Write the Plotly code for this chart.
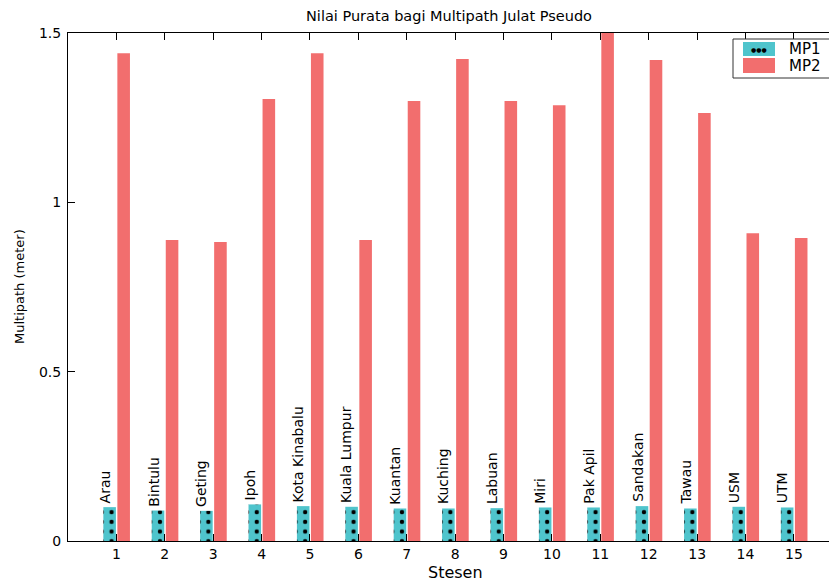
import plotly.graph_objects as go

stations = ["Arau", "Bintulu", "Geting", "Ipoh", "Kota Kinabalu", "Kuala Lumpur",
            "Kuantan", "Kuching", "Labuan", "Miri", "Pak Apil", "Sandakan",
            "Tawau", "USM", "UTM"]
station_no = list(range(1, 16))
mp1 = [0.100, 0.090, 0.089, 0.108, 0.103, 0.101, 0.096, 0.096, 0.097, 0.099,
       0.099, 0.103, 0.096, 0.101, 0.099]
mp2 = [1.440, 0.889, 0.883, 1.305, 1.440, 0.889, 1.299, 1.423, 1.299, 1.287,
       1.500, 1.420, 1.264, 0.909, 0.895]
y_ticks = [0, 0.5, 1, 1.5]
y_ticklabels = ["0", "0.5", "1", "1.5"]

CYAN = "#4FC4CC"
RED = "#F26E6E"
FONT = "DejaVu Sans, Verdana, sans-serif"

# page body has an 8px margin; figure sized so that it ends at the window edge
OFF = 8
W, H = 837 - OFF, 583 - OFF
L, R, T, B = 68 - OFF, 0, 33 - OFF, 583 - 541
pw, ph = W - L - R, H - T - B

def px(xs):  # screen x -> paper
    return (xs - 68) / pw

def py(ys):  # screen y -> paper
    return (541 - ys) / ph

fig = go.Figure()
fig.add_trace(go.Bar(
    x=station_no, y=mp1, name="MP1", width=0.26, offset=-0.27,
    marker=dict(color=CYAN, line=dict(width=0),
                pattern=dict(shape=".", size=9.68, solidity=0.16, fgcolor="black",
                             bgcolor=CYAN, fillmode="replace")),
    showlegend=False))
fig.add_trace(go.Bar(
    x=station_no, y=mp2, name="MP2", width=0.26, offset=0.02,
    marker=dict(color=RED, line=dict(width=0)), showlegend=False))

annotations = []
for n, name, v in zip(station_no, stations, mp1):
    annotations.append(dict(x=n - 0.24, y=v, xref="x", yref="y", text=name,
                            textangle=-90, showarrow=False, xanchor="center",
                            yanchor="bottom", yshift=2,
                            font=dict(family=FONT, size=14, color="black")))

# axis titles
annotations += [
    dict(x=px(455), y=py(572), xref="paper", yref="paper", text="Stesen",
         showarrow=False, xanchor="center", yanchor="middle",
         font=dict(family=FONT, size=16, color="black")),
    dict(x=px(19), y=py(287), xref="paper", yref="paper", text="Multipath (meter)",
         textangle=-90, showarrow=False, xanchor="center", yanchor="middle",
         font=dict(family=FONT, size=13, color="black")),
]

# manual legend
shapes = [
    dict(type="rect", xref="paper", yref="paper", x0=px(733), x1=px(900),
         y0=py(78), y1=py(39), line=dict(color="#333", width=1), fillcolor="white"),
    dict(type="rect", xref="paper", yref="paper", x0=px(743), x1=px(775),
         y0=py(56), y1=py(42), line=dict(width=0), fillcolor=CYAN),
    dict(type="rect", xref="paper", yref="paper", x0=px(743), x1=px(775),
         y0=py(73), y1=py(58), line=dict(width=0), fillcolor=RED),
]
annotations += [
    dict(x=px(759), y=py(49), xref="paper", yref="paper", text="●●●",
         showarrow=False, xanchor="center", yanchor="middle",
         font=dict(family=FONT, size=6, color="black")),
    dict(x=px(787), y=py(49), xref="paper", yref="paper", text="MP1",
         showarrow=False, xanchor="left", yanchor="middle",
         font=dict(family=FONT, size=15, color="black")),
    dict(x=px(787), y=py(65.5), xref="paper", yref="paper", text="MP2",
         showarrow=False, xanchor="left", yanchor="middle",
         font=dict(family=FONT, size=15, color="black")),
]

fig.update_layout(
    width=W, height=H,
    margin=dict(l=L, r=R, t=T, b=B, pad=0, autoexpand=False),
    paper_bgcolor="white", plot_bgcolor="white",
    font=dict(family=FONT, size=14, color="black"),
    barmode="overlay",
    title=dict(text="Nilai Purata bagi Multipath Julat Pseudo",
               x=(449 - OFF) / W, xref="container", xanchor="center",
               y=1, yref="container", yanchor="top",
               pad=dict(t=3, b=0, l=0, r=0),
               font=dict(family=FONT, size=14.5, color="black")),
    xaxis=dict(range=[0, 15.89], tickmode="array", tickvals=station_no,
               ticktext=[str(n) for n in station_no], automargin=False,
               showline=True, linecolor="black", linewidth=1, mirror="ticks",
               ticks="inside", ticklen=7, tickcolor="black", showgrid=False,
               zeroline=False, tickfont=dict(size=14)),
    yaxis=dict(range=[0, 1.5], tickmode="array", tickvals=y_ticks,
               ticktext=y_ticklabels, automargin=False, showline=True,
               linecolor="black", linewidth=1, ticks="inside", ticklen=7,
               tickcolor="black", showgrid=False, zeroline=False,
               ticklabelstandoff=3, tickfont=dict(size=14)),
    shapes=shapes,
    annotations=annotations,
)

fig.write_html("out.html")
